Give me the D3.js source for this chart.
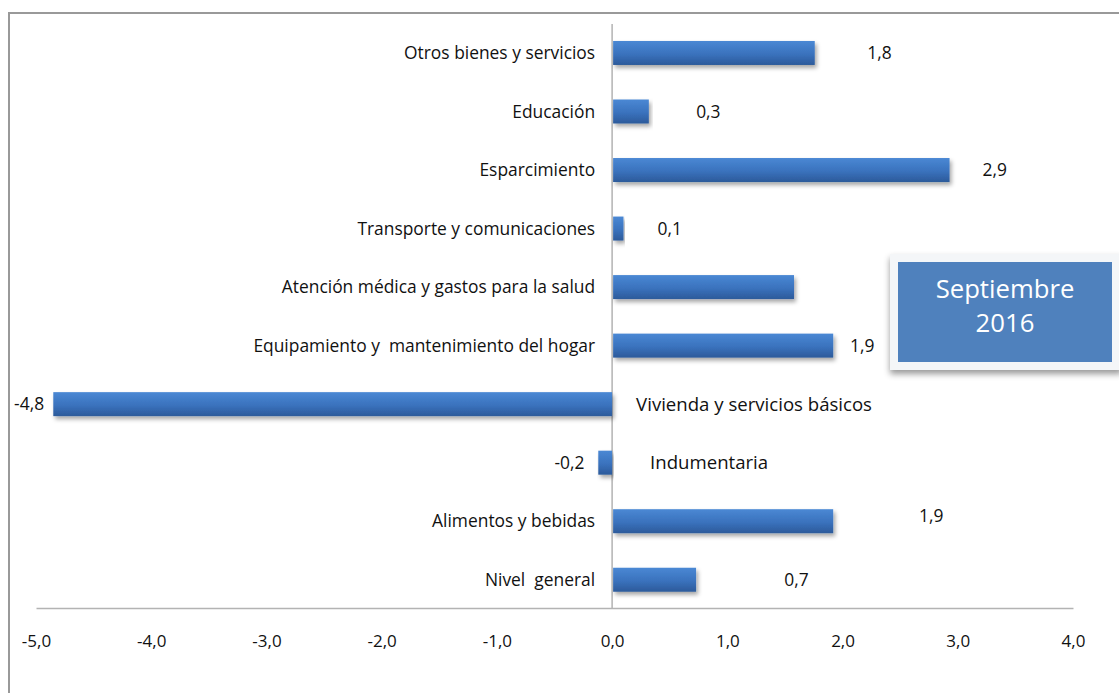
<!DOCTYPE html>
<html>
<head>
<meta charset="utf-8">
<script src="https://cdn.jsdelivr.net/npm/d3@7"></script>
<style>
  html, body { margin: 0; padding: 0; background: #fff; }
  svg { display: block; }
  text { font-family: "Open Sans", Lato, sans-serif; fill: #111; white-space: pre; }
</style>
</head>
<body>
<svg id="chart" width="1119" height="693"></svg>
<script>
// ---- data ----
const categories = [
  "Otros bienes y servicios",
  "Educación",
  "Esparcimiento",
  "Transporte y comunicaciones",
  "Atención médica y gastos para la salud",
  "Equipamiento y  mantenimiento del hogar",
  "Vivienda y servicios básicos",
  "Indumentaria",
  "Alimentos y bebidas",
  "Nivel  general"
];
const values = [1.75, 0.31, 2.92, 0.09, 1.57, 1.91, -4.85, -0.12, 1.91, 0.72];
const valueLabels = ["1,8", "0,3", "2,9", "0,1", null, "1,9", "-4,8", "-0,2", "1,9", "0,7"];
const xTicks = [-5, -4, -3, -2, -1, 0, 1, 2, 3, 4];
const tickLabels = ["-5,0", "-4,0", "-3,0", "-2,0", "-1,0", "0,0", "1,0", "2,0", "3,0", "4,0"];
const boxLines = ["Septiembre", "2016"];

// ---- layout (label placement in data units, not data) ----
const labelAt = [2.32, 0.835, 3.32, 0.50, null, 2.17, -5.06, -0.37, 2.77, 1.6];
const labelDy = [0, 0, 0, 0, 0, 0, 0, 0, -5, 0];

const svg = d3.select("#chart");
const defs = svg.append("defs");

const grad = defs.append("linearGradient").attr("id", "barGrad")
  .attr("x1", 0).attr("y1", 0).attr("x2", 0).attr("y2", 1);
grad.append("stop").attr("offset", "0%").attr("stop-color", "#4a88d4");
grad.append("stop").attr("offset", "55%").attr("stop-color", "#3a72bd");
grad.append("stop").attr("offset", "100%").attr("stop-color", "#2c5a9a");

const sh = defs.append("filter").attr("id", "shadow")
  .attr("x", "-5%").attr("y", "-20%").attr("width", "115%").attr("height", "170%");
sh.append("feDropShadow").attr("dx", 2).attr("dy", 3).attr("stdDeviation", 2)
  .attr("flood-color", "#000").attr("flood-opacity", 0.35);

const bsh = defs.append("filter").attr("id", "boxShadow")
  .attr("x", "-10%").attr("y", "-10%").attr("width", "120%").attr("height", "130%");
bsh.append("feDropShadow").attr("dx", 0).attr("dy", 4).attr("stdDeviation", 3)
  .attr("flood-color", "#000").attr("flood-opacity", 0.4);

// outer border
svg.append("path")
  .attr("d", "M9,700 L9,13 L1125,13")
  .attr("fill", "none").attr("stroke", "#999").attr("stroke-width", 2);

const x = d3.scaleLinear().domain([-5, 4]).range([36, 1073]);
const y = d3.scaleBand().domain(categories).range([23.7, 609])
  .paddingInner(0.59).paddingOuter(0.295);

// x axis
const xAxis = d3.axisBottom(x).tickValues(xTicks).tickSize(0)
  .tickFormat((d, i) => tickLabels[i]);
const gx = svg.append("g").attr("transform", "translate(0,608)").call(xAxis);
gx.select(".domain").attr("stroke", "#b3b3b3").attr("stroke-width", 1.5);
gx.selectAll("text").attr("dy", 0).attr("y", 39)
  .style("font-size", "17px").style("fill", "#111")
  .attr("font-family", "'Open Sans', sans-serif");

// zero line
svg.append("line")
  .attr("x1", x(0)).attr("x2", x(0)).attr("y1", 24).attr("y2", 608)
  .attr("stroke", "#b3b3b3").attr("stroke-width", 1.5);

// bars
svg.append("g").selectAll("rect").data(categories).join("rect")
  .attr("x", (d, i) => Math.min(x(0), x(values[i])) + (values[i] >= 0 ? 1 : 0))
  .attr("y", d => y(d))
  .attr("width", (d, i) => Math.abs(x(values[i]) - x(0)))
  .attr("height", y.bandwidth())
  .attr("fill", "url(#barGrad)")
  .attr("filter", "url(#shadow)");

// category labels
svg.append("g").selectAll("text").data(categories).join("text")
  .attr("x", (d, i) => values[i] >= 0 ? x(0) - 17 : x(0) + (values[i] < -1 ? 24 : 38))
  .attr("y", d => y(d) + y.bandwidth() / 2)
  .attr("dy", "0.35em")
  .attr("text-anchor", (d, i) => values[i] >= 0 ? "end" : "start")
  .style("font-size", (d, i) => values[i] >= 0 ? "17.4px" : "18.6px")
  .text(d => d);

// value labels
svg.append("g").selectAll("text")
  .data(categories.map((c, i) => ({ c, i })).filter(o => valueLabels[o.i] !== null))
  .join("text")
  .attr("x", o => x(labelAt[o.i]))
  .attr("y", o => y(o.c) + y.bandwidth() / 2 + labelDy[o.i])
  .attr("dy", "0.35em")
  .attr("text-anchor", "middle")
  .style("font-size", "17.4px")
  .text(o => valueLabels[o.i]);

// Septiembre 2016 box
const bx = 890, by = 254, bw = 232, bh = 116;
svg.append("rect").attr("x", bx).attr("y", by).attr("width", bw).attr("height", bh)
  .attr("fill", "#f4f6f8").attr("filter", "url(#boxShadow)");
svg.append("rect").attr("x", 898).attr("y", 262).attr("width", 214).attr("height", 100)
  .attr("fill", "#4f81bd");
svg.append("g").selectAll("text").data(boxLines).join("text")
  .attr("x", 1005)
  .attr("y", (d, i) => 289 + i * 34)
  .attr("dy", "0.35em")
  .attr("text-anchor", "middle")
  .style("font-size", "25.7px")
  .style("fill", "#fff")
  .text(d => d);
</script>
</body>
</html>
